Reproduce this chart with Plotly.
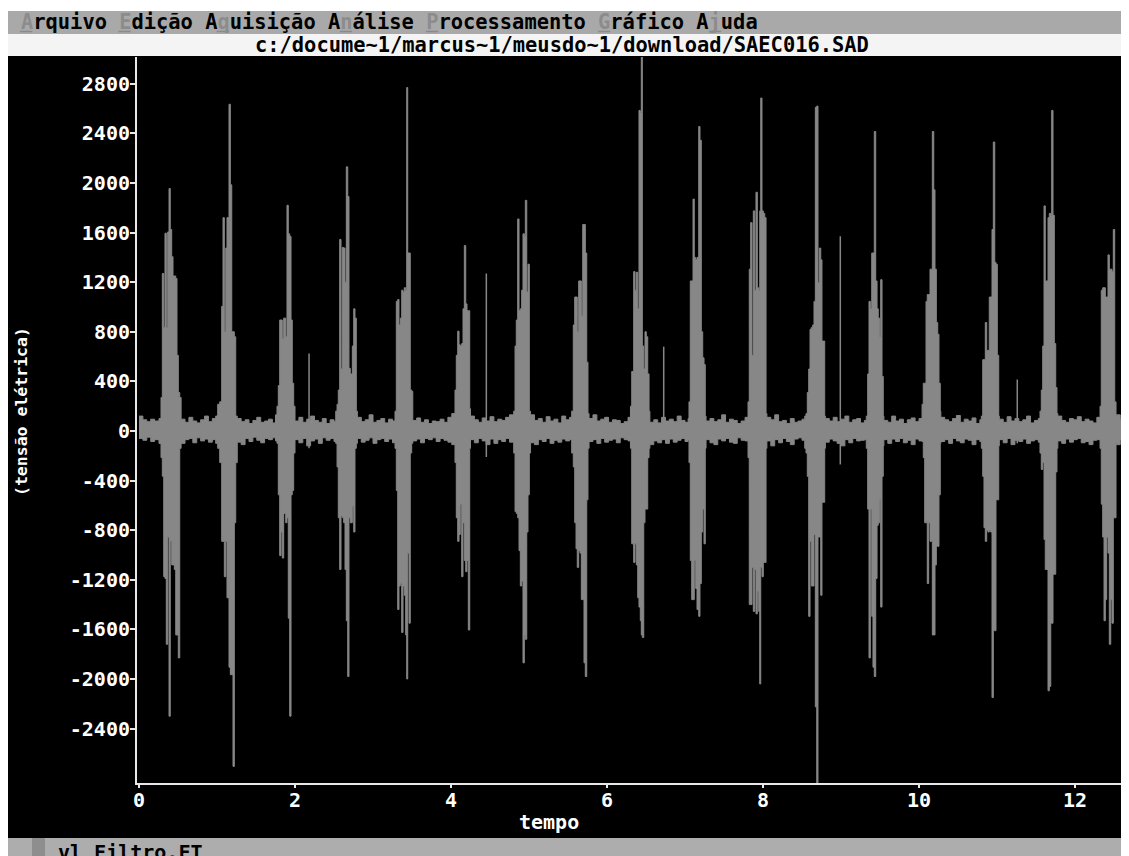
import plotly.graph_objects as go

# ---------------- data ----------------
x_ticks = [0, 2, 4, 6, 8, 10, 12]
x_tick_labels = ["0", "2", "4", "6", "8", "10", "12"]
y_ticks = [2800, 2400, 2000, 1600, 1200, 800, 400, 0, -400, -800, -1200, -1600, -2000, -2400]
y_tick_labels = ["2800", "2400", "2000", "1600", "1200", "800", "400", "0",
                 "-400", "-800", "-1200", "-1600", "-2000", "-2400"]

# per-burst columns: time, column maximum, column minimum
burst_t = [
    [0.256, 0.282, 0.299, 0.317, 0.333, 0.350, 0.368, 0.385, 0.401, 0.419, 0.436, 0.453, 0.471, 0.487, 0.504, 0.522],
    [0.983, 1.009, 1.035, 1.060, 1.077, 1.094, 1.112, 1.128, 1.154, 1.171, 1.189, 1.205, 1.222, 1.240],
    [1.769, 1.786, 1.804, 1.821, 1.837, 1.855, 1.881, 1.897, 1.914, 1.932, 1.949, 1.965, 1.983],
    [2.522, 2.539, 2.555, 2.573, 2.590, 2.606, 2.624, 2.641, 2.658, 2.676, 2.692, 2.709, 2.735, 2.753, 2.769, 2.786],
    [3.282, 3.299, 3.317, 3.333, 3.350, 3.368, 3.385, 3.401, 3.419, 3.432, 3.445, 3.462, 3.478, 3.496],
    [4.051, 4.068, 4.086, 4.103, 4.119, 4.137, 4.154, 4.171, 4.189, 4.205, 4.222, 4.240],
    [4.804, 4.821, 4.837, 4.855, 4.872, 4.889, 4.906, 4.923, 4.940, 4.953, 4.971, 4.987, 5.004],
    [5.547, 5.568, 5.586, 5.603, 5.619, 5.637, 5.654, 5.671, 5.689, 5.705, 5.722, 5.740, 5.756],
    [6.301, 6.317, 6.342, 6.359, 6.376, 6.394, 6.410, 6.427, 6.440, 6.453, 6.471, 6.487, 6.504, 6.522, 6.539],
    [7.051, 7.068, 7.086, 7.103, 7.119, 7.137, 7.154, 7.176, 7.192, 7.209, 7.227, 7.244, 7.260],
    [7.808, 7.824, 7.842, 7.859, 7.876, 7.894, 7.910, 7.927, 7.945, 7.958, 7.971, 7.987, 8.004, 8.022, 8.039],
    [8.535, 8.551, 8.568, 8.586, 8.603, 8.619, 8.637, 8.654, 8.671, 8.689, 8.705, 8.722, 8.740, 8.756, 8.773, 8.791],
    [9.324, 9.342, 9.359, 9.376, 9.394, 9.410, 9.427, 9.445, 9.462, 9.478, 9.496, 9.509, 9.526, 9.542],
    [10.039, 10.055, 10.073, 10.090, 10.106, 10.124, 10.141, 10.158, 10.171, 10.189, 10.205, 10.222, 10.240, 10.256, 10.273],
    [10.799, 10.817, 10.833, 10.850, 10.868, 10.885, 10.901, 10.919, 10.936, 10.953, 10.971, 10.987, 11.004, 11.022],
    [11.551, 11.568, 11.586, 11.603, 11.619, 11.637, 11.654, 11.671, 11.689, 11.701, 11.718, 11.735, 11.753, 11.769],
    [12.321, 12.337, 12.355, 12.372, 12.389, 12.406, 12.423, 12.440, 12.458, 12.474, 12.491, 12.509, 12.526],
]
burst_hi = [
    [100, 270, 1270, 835, 1595, 835, 1605, 1955, 1625, 1405, 1250, 1250, 1230, 610, 310, 270],
    [120, 215, 235, 1005, 1720, 800, 1475, 1720, 2635, 1985, 800, 800, 760, 120],
    [200, 367, 895, 895, 743, 910, 760, 1820, 1590, 1570, 895, 385, 200],
    [160, 215, 330, 1545, 500, 1480, 1475, 1200, 2130, 1890, 505, 460, 685, 985, 910, 160],
    [160, 1045, 1060, 855, 910, 1135, 1120, 1155, 1135, 2770, 1435, 1435, 330, 320],
    [330, 610, 805, 695, 685, 705, 985, 1495, 1025, 970, 970, 180],
    [160, 685, 895, 1710, 970, 985, 1135, 1590, 1570, 1860, 1120, 1345, 160],
    [160, 855, 1080, 1080, 800, 1210, 1210, 930, 1665, 1665, 1435, 555, 140],
    [200, 480, 1285, 1135, 1280, 985, 2585, 2565, 3050, 685, 500, 800, 760, 460, 160],
    [235, 1210, 1210, 1870, 1400, 1380, 1400, 2455, 2345, 800, 590, 535, 120],
    [235, 1305, 1680, 610, 1775, 1135, 1925, 1155, 1135, 1775, 2685, 1775, 1755, 1720, 140],
    [120, 140, 310, 500, 820, 835, 855, 1045, 2610, 2620, 1195, 1475, 1380, 725, 725, 120],
    [120, 460, 1045, 985, 1435, 1435, 2415, 1210, 985, 910, 760, 1220, 440, 120],
    [215, 385, 385, 1045, 1100, 1100, 1305, 1305, 2415, 1945, 1305, 875, 780, 385, 160],
    [120, 575, 575, 875, 650, 650, 1080, 1080, 1625, 2330, 1360, 1345, 610, 120],
    [160, 330, 685, 1815, 1210, 1210, 1720, 1755, 1740, 2585, 1740, 705, 350, 140],
    [200, 1135, 1155, 1155, 1080, 1080, 1420, 1305, 1305, 1285, 1625, 235, 120],
]
burst_lo = [
    [-100, -215, -365, -1175, -1190, -1720, -855, -2300, -890, -1080, -1080, -1117, -1645, -1645, -1830, -140],
    [-100, -140, -255, -890, -890, -1175, -890, -1345, -1905, -1965, -1965, -2705, -740, -255],
    [-100, -515, -1005, -815, -1025, -665, -740, -700, -1510, -2300, -515, -480, -178],
    [-100, -290, -700, -1117, -685, -700, -740, -1117, -1530, -1980, -700, -740, -610, -815, -140, -100],
    [-140, -480, -1440, -1250, -1230, -1625, -1250, -1325, -1645, -2000, -985, -1550, -178, -100],
    [-255, -700, -890, -835, -590, -1175, -740, -1045, -1135, -1045, -1605, -140],
    [-178, -650, -665, -700, -965, -1250, -1210, -1870, -1645, -1680, -815, -515, -178],
    [-178, -290, -740, -950, -1100, -965, -985, -1360, -1360, -1870, -1980, -555, -140],
    [-140, -910, -1060, -910, -1080, -1345, -1420, -1530, -1645, -1665, -740, -630, -630, -215, -140],
    [-255, -1045, -1360, -1360, -1045, -1270, -1440, -1495, -1230, -815, -630, -910, -140],
    [-215, -1400, -1400, -1100, -1455, -1117, -1475, -1290, -1455, -2040, -1100, -1175, -1060, -1060, -140],
    [-140, -178, -366, -1495, -890, -1250, -1250, -835, -2225, -3100, -855, -855, -1325, -575, -575, -140],
    [-140, -630, -1830, -630, -1495, -1905, -1980, -1190, -760, -740, -555, -1420, -366, -120],
    [-85, -215, -740, -740, -1230, -740, -890, -890, -1645, -1645, -1080, -930, -930, -515, -100],
    [-140, -366, -780, -890, -800, -815, -800, -815, -2150, -1610, -1610, -555, -555, -120],
    [-178, -310, -255, -875, -1117, -1117, -2095, -2060, -1550, -1550, -1155, -1155, -330, -140],
    [-140, -590, -855, -1530, -1360, -855, -985, -1720, -1360, -1550, -700, -700, -100],
]

# baseline noise between bursts: time, column max, column min
noise_t = [
    0.00, 0.05, 0.10, 0.15, 0.20,
    0.54, 0.59, 0.64, 0.69, 0.74, 0.79, 0.84, 0.89, 0.94,
    1.26, 1.31, 1.36, 1.41, 1.46, 1.51, 1.56, 1.61, 1.66, 1.71, 1.75,
    2.00, 2.05, 2.10, 2.15, 2.20, 2.25, 2.30, 2.35, 2.40, 2.45, 2.50,
    2.80, 2.85, 2.90, 2.95, 3.00, 3.05, 3.10, 3.15, 3.20, 3.25,
    3.51, 3.56, 3.61, 3.66, 3.71, 3.76, 3.81, 3.86, 3.91, 3.96, 4.01,
    4.25, 4.30, 4.35, 4.40, 4.45, 4.50, 4.55, 4.60, 4.65, 4.70, 4.75,
    5.02, 5.07, 5.12, 5.17, 5.22, 5.27, 5.32, 5.37, 5.42, 5.47, 5.52,
    5.77, 5.82, 5.87, 5.92, 5.97, 6.02, 6.07, 6.12, 6.17, 6.22, 6.27,
    6.55, 6.60, 6.65, 6.70, 6.75, 6.80, 6.85, 6.90, 6.95, 7.00, 7.04,
    7.27, 7.32, 7.37, 7.42, 7.47, 7.52, 7.57, 7.62, 7.67, 7.72, 7.77,
    8.05, 8.10, 8.15, 8.20, 8.25, 8.30, 8.35, 8.40, 8.45, 8.50,
    8.80, 8.85, 8.90, 8.95, 9.00, 9.05, 9.10, 9.15, 9.20, 9.25, 9.30,
    9.55, 9.60, 9.65, 9.70, 9.75, 9.80, 9.85, 9.90, 9.95, 10.00,
    10.28, 10.33, 10.38, 10.43, 10.48, 10.53, 10.58, 10.63, 10.68, 10.73, 10.78,
    11.03, 11.08, 11.13, 11.18, 11.23, 11.28, 11.33, 11.38, 11.43, 11.48, 11.53,
    11.78, 11.83, 11.88, 11.93, 11.98, 12.03, 12.08, 12.13, 12.18, 12.23, 12.28,
    12.53, 12.58, 12.63, 12.68, 12.72,
]
noise_hi = [
    120, 90, 75, 95, 80,
    95, 70, 110, 80, 65, 90, 120, 75, 100,
    100, 75, 90, 60, 85, 110, 70, 80, 95, 65, 130,
    80, 110, 70, 95, 120, 85, 70, 100, 60, 90, 75,
    110, 75, 90, 130, 70, 85, 100, 65, 95, 80,
    85, 105, 70, 90, 60, 80, 75, 95, 70, 110, 140,
    120, 90, 70, 105, 80, 115, 75, 95, 85, 110, 130,
    130, 85, 100, 70, 115, 80, 95, 65, 120, 90, 110,
    100, 130, 80, 95, 110, 70, 90, 85, 60, 75, 110,
    70, 90, 65, 110, 80, 95, 75, 120, 85, 70, 100,
    80, 100, 75, 90, 130, 70, 95, 85, 60, 80, 110,
    110, 90, 130, 75, 85, 60, 100, 70, 80, 95,
    100, 80, 110, 75, 95, 120, 70, 90, 100, 65, 85,
    85, 70, 120, 80, 95, 60, 90, 105, 75, 100,
    110, 90, 75, 100, 125, 70, 95, 80, 105, 60, 90,
    95, 70, 115, 80, 100, 75, 90, 120, 65, 85, 100,
    120, 85, 70, 100, 90, 115, 75, 95, 80, 65, 110,
    130, 95, 80, 110, 90,
]
noise_lo = [
    -60, -75, -50, -85, -70,
    -100, -70, -60, -95, -55, -80, -65, -90, -70,
    -90, -110, -60, -85, -50, -75, -95, -60, -70, -55, -80,
    -70, -95, -60, -120, -80, -65, -100, -55, -75, -60, -85,
    -60, -90, -75, -55, -100, -70, -60, -85, -65, -95,
    -80, -65, -95, -60, -70, -55, -85, -60, -75, -90, -110,
    -70, -95, -60, -80, -110, -65, -100, -70, -85, -60, -90,
    -95, -110, -70, -85, -60, -100, -75, -90, -65, -80, -70,
    -85, -70, -100, -60, -90, -75, -65, -95, -55, -70, -80,
    -110, -80, -95, -70, -100, -65, -90, -75, -60, -85, -70,
    -70, -95, -110, -65, -80, -60, -90, -100, -55, -75, -80,
    -80, -120, -70, -95, -60, -85, -110, -65, -55, -75,
    -90, -65, -80, -100, -120, -70, -95, -60, -80, -75, -70,
    -70, -100, -65, -85, -60, -95, -75, -110, -65, -80,
    -85, -70, -100, -60, -80, -95, -65, -75, -110, -70, -85,
    -70, -95, -60, -110, -75, -85, -65, -100, -80, -70, -90,
    -80, -100, -65, -90, -70, -60, -95, -85, -110, -75, -70,
    -110, -70, -95, -80, -100,
]

# isolated single spikes between bursts
spike_t = [2.180, 4.453, 6.727, 8.991, 11.260]
spike_hi = [625, 1270, 680, 1570, 415]
spike_lo = [-140, -210, -65, -270, -100]

# ---------------- build ----------------
cols = []
for ts, hs, ls in zip(burst_t, burst_hi, burst_lo):
    cols += list(zip(ts, hs, ls))
cols += list(zip(noise_t, noise_hi, noise_lo))
cols.sort()
t = [c[0] for c in cols]
hi = [c[1] for c in cols]
lo = [c[2] for c in cols]

SIG = "#878787"
FONT = "DejaVu Sans Mono"

fig = go.Figure()
fig.add_trace(go.Scatter(x=t, y=hi, mode="lines", line=dict(color=SIG, width=1, shape="hv"),
                         hoverinfo="skip"))
fig.add_trace(go.Scatter(x=t, y=lo, mode="lines", line=dict(color=SIG, width=1, shape="hv"),
                         fill="tonexty", fillcolor=SIG, hoverinfo="skip"))
sx, sy = [], []
for st, sh, sl in zip(spike_t, spike_hi, spike_lo):
    sx += [st, st, None]
    sy += [sl, sh, None]
fig.add_trace(go.Scatter(x=sx, y=sy, mode="lines", line=dict(color=SIG, width=1.5), hoverinfo="skip"))

# page has an 8px body margin: figure occupies page pixels 8..1129 x 8..856
OFF = 8
W, H = 1129 - OFF, 856 - OFF
L, T, B = 137, 57, 783          # page coordinates of plot box
PW, PH = 1129 - L, B - T


def px(xp):
    return (xp - L) / PW


def py(yp):
    return (B - yp) / PH


shapes = [
    dict(type="rect", xref="paper", yref="paper", x0=px(OFF - 2), x1=px(1135), y0=py(838), y1=py(56),
         fillcolor="black", line=dict(width=0), layer="below"),
    dict(type="rect", xref="paper", yref="paper", x0=px(OFF - 2), x1=px(1135), y0=py(34), y1=py(11),
         fillcolor="#a9a9a9", line=dict(width=0), layer="below"),
    dict(type="rect", xref="paper", yref="paper", x0=px(OFF - 2), x1=px(1135), y0=py(56), y1=py(34),
         fillcolor="#f4f4f4", line=dict(width=0), layer="below"),
    dict(type="rect", xref="paper", yref="paper", x0=px(OFF - 2), x1=px(1135), y0=py(862), y1=py(838),
         fillcolor="#adadad", line=dict(width=0), layer="below"),
    dict(type="rect", xref="paper", yref="paper", x0=px(32), x1=px(45), y0=py(862), y1=py(838),
         fillcolor="#8e8e8e", line=dict(width=0), layer="below"),
]

# hotkey underlines in the menu bar (monospaced cells)
MENU_X0, CW = 20, 12.3
for idx in [0, 8, 16, 26, 33, 47, 56]:
    shapes.append(dict(type="line", xref="paper", yref="paper",
                       x0=px(MENU_X0 + idx * CW), x1=px(MENU_X0 + (idx + 1) * CW),
                       y0=py(31.5), y1=py(31.5), line=dict(color="#8a8a8a", width=1.5)))

hk = "<span style='color:#8c8c8c'>{}</span>"
menu = (hk.format("A") + "rquivo " + hk.format("E") + "dição A" + hk.format("q") + "uisição A"
        + hk.format("n") + "álise " + hk.format("P") + "rocessamento " + hk.format("G") + "ráfico A"
        + hk.format("j") + "uda")

annotations = [
    dict(text=menu, xref="paper", yref="paper", x=px(MENU_X0 - 1), y=py(22), xanchor="left", yanchor="middle",
         showarrow=False, font=dict(family=FONT, size=20.4, color="black", weight="bold")),
    dict(text="c:/docume~1/marcus~1/meusdo~1/download/SAEC016.SAD", xref="paper", yref="paper",
         x=px(562), y=py(44.5), xanchor="center", yanchor="middle", showarrow=False,
         font=dict(family=FONT, size=20.4, color="black", weight="bold")),
    dict(text="tempo", xref="paper", yref="paper", x=px(549), y=py(822), xanchor="center",
         yanchor="middle", showarrow=False, font=dict(family=FONT, size=20, color="white", weight="bold")),
    dict(text="(tensão elétrica)", xref="paper", yref="paper", x=px(21), y=py(412), xanchor="center",
         yanchor="middle", textangle=-90, showarrow=False,
         font=dict(family=FONT, size=16.5, color="white", weight="bold")),
    dict(text="vl Filtro.FT", xref="paper", yref="paper", x=px(56), y=py(838), xanchor="left",
         yanchor="top", showarrow=False, font=dict(family=FONT, size=20, color="black", weight="bold")),
]

fig.update_layout(
    width=W, height=H,
    margin=dict(l=L - OFF, r=0, t=T - OFF, b=856 - B, pad=0),
    paper_bgcolor="white", plot_bgcolor="black",
    showlegend=False, hovermode=False,
    shapes=shapes, annotations=annotations,
    xaxis=dict(range=[-2 / 78, (1129 - L - 2) / 78], tickvals=x_ticks, ticktext=x_tick_labels,
               ticks="outside", ticklen=3, tickwidth=1.5, tickcolor="#e8e8e8", ticklabelstandoff=-5,
               showline=True, linecolor="#e8e8e8", linewidth=2, showgrid=False, zeroline=False,
               tickfont=dict(family=FONT, size=20, color="white", weight="bold"), fixedrange=True),
    yaxis=dict(range=[-2839, 3016], tickvals=y_ticks, ticktext=y_tick_labels,
               ticks="outside", ticklen=5, tickwidth=1.5, tickcolor="#e8e8e8", ticklabelstandoff=-4,
               showline=True, linecolor="#e8e8e8", linewidth=2, showgrid=False, zeroline=False,
               tickfont=dict(family=FONT, size=20, color="white", weight="bold"), fixedrange=True),
)

fig.write_html("out.html", config={"displayModeBar": False})
